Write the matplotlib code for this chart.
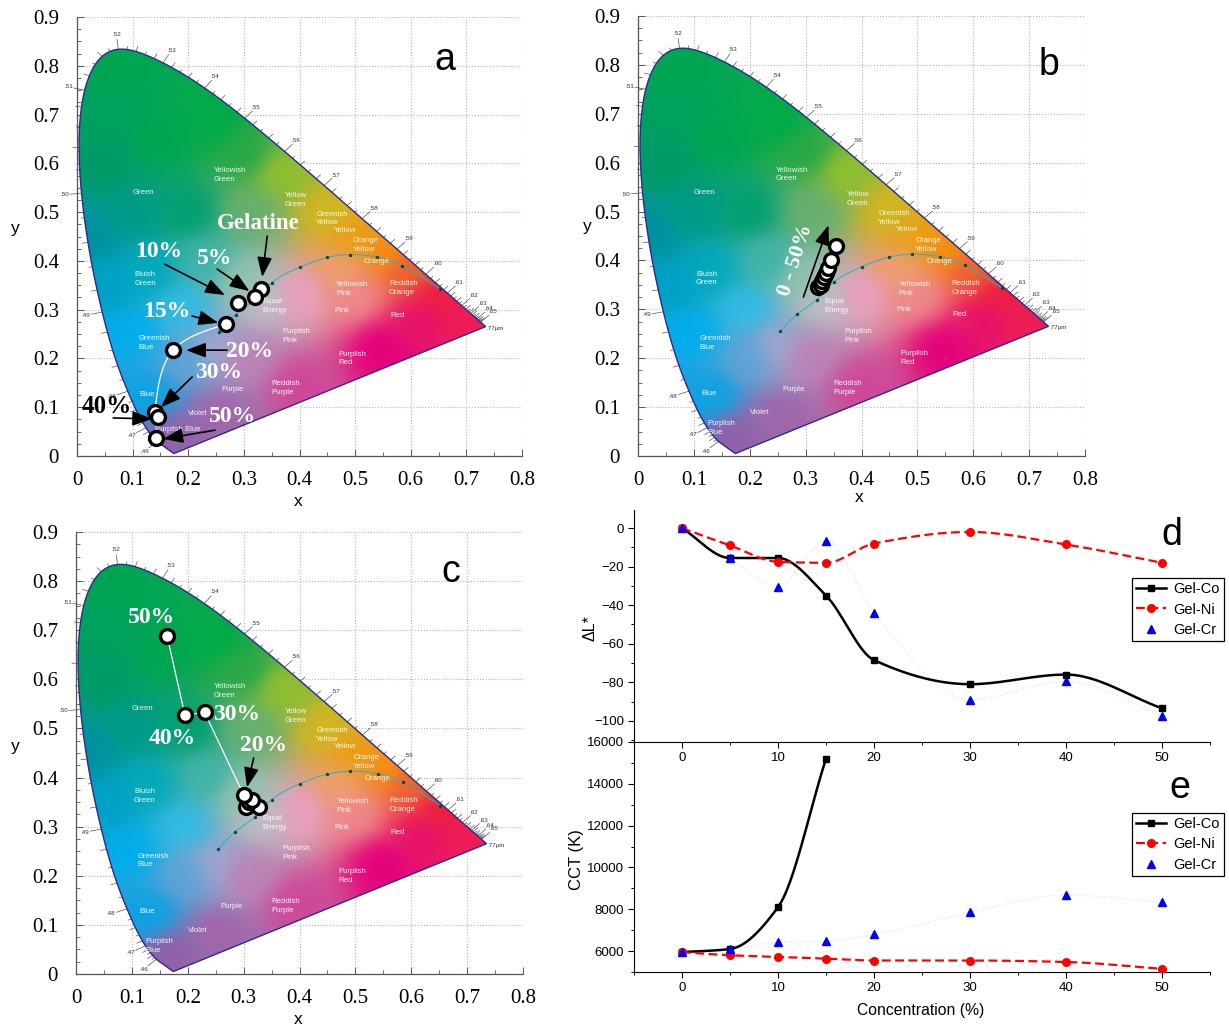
import numpy as np
import matplotlib
matplotlib.use("Agg")
import matplotlib.pyplot as plt
from matplotlib.colors import to_rgb
from matplotlib.lines import Line2D
from matplotlib.patches import Polygon
from matplotlib.ticker import MultipleLocator

W, H = 1229, 1027
SERIF = "Liberation Serif"
SANS = "Liberation Sans"

# CIE 1931 spectral locus
wave = [460, 470, 475, 480, 485, 490, 495, 500, 505, 510, 515, 520, 525, 530, 535, 540, 545, 550, 555, 560,
        565, 570, 575, 580, 585, 590, 595, 600, 610, 620, 630, 640, 650]
loc_x = [.1440, .1241, .1096, .0913, .0687, .0454, .0235, .0082, .0039, .0139, .0389, .0743, .1142, .1547, .1929,
         .2296, .2658, .3016, .3373, .3731, .4087, .4441, .4788, .5125, .5448, .5752, .6029, .6270, .6658, .6915,
         .7079, .7190, .7260]
loc_y = [.0297, .0578, .0868, .1327, .2007, .2950, .4127, .5384, .6548, .7502, .8120, .8338, .8262, .8059, .7816,
         .7543, .7243, .6923, .6589, .6245, .5896, .5547, .5202, .4866, .4544, .4242, .3965, .3725, .3340, .3083,
         .2920, .2809, .2740]
end_red = (.7347, .2653)
end_blue = (.1741, .0050)

# colours
anchor_x = [.08, .25, .05, .02, .06, .10, .19, .13, .17, .25, .30, .33, .40, .37, .45, .50, .55, .60, .65, .72,
            .55, .40, .30, .50, .25, .20, .10, .15, .31, .47, .62, .30, .23, .05, .13, .20]
anchor_y = [.78, .68, .60, .45, .35, .25, .30, .12, .04, .08, .36, .32, .33, .58, .50, .45, .42, .38, .33, .27,
            .22, .14, .20, .33, .22, .50, .50, .65, .50, .38, .28, .62, .40, .70, .38, .20]
anchor_c = ["#00a651", "#00ab48", "#009a68", "#0090a0", "#00a0c8", "#00aeef", "#30bce8", "#08a4e4", "#9460a8",
            "#a266aa", "#90c4ae", "#c4bcc8", "#eca0c4", "#92c030", "#d0b820", "#eca010", "#f59010", "#f26030",
            "#ee1c40", "#ee1c58", "#e4007c", "#d04898", "#c080b4", "#f08890", "#a4a8d0", "#00a070", "#009a88",
            "#00a650", "#68b070", "#f0a070", "#e8106c", "#28a848", "#40b4a8", "#00a060", "#00aabc", "#5ca4d8"]

# planckian locus
pl_x = [.255, .285, .32, .35, .40, .45, .49, .54, .585, .652]
pl_y = [.255, .29, .32, .355, .387, .407, .413, .408, .39, .343]

region_names = ["Yellowish\nGreen", "Green", "Yellow\nGreen", "Greenish\nYellow", "Yellow", "Orange\nYellow", "Orange",
                "Reddish\nOrange", "Yellowish\nPink", "Pink", "Red", "Equal\nEnergy", "Bluish\nGreen",
                "Greenish\nBlue", "Purplish\nPink", "Purplish\nRed", "Reddish\nPurple", "Purple", "Blue", "Violet"]
region_x = [.246, .10, .374, .43, .462, .496, .516, .561, .466, .462, .563, .333, .104, .11, .37, .47, .349, .259,
            .113, .20]
region_y = [.576, .54, .525, .487, .463, .432, .398, .344, .342, .299, .289, .307, .363, .231, .246, .20, .139, .137,
            .127, .088]

# panel a points, gelatine -> 50 %
a_x = [.33, .32, .29, .268, .173, .14, .145, .142]
a_y = [.343, .325, .313, .27, .217, .09, .08, .036]
# panel b
b_x = [.323, .327, .33, .333, .336, .34, .345, .355]
b_y = [.345, .35, .358, .366, .375, .385, .40, .43]
# panel c
c_x = [.327, .305, .31, .315, .30, .23, .195, .163]
c_y = [.34, .34, .35, .355, .365, .533, .527, .688]

conc = [0, 5, 10, 15, 20, 30, 40, 50]
dl_co = [0, -15.5, -15.5, -35, -68.5, -81, -76, -93.5]
dl_ni = [0, -9, -17.5, -18, -8, -2, -8.5, -18]
dl_cr = [0, -15.5, -30.5, -6.5, -44, -89, -79.5, -97.5]
cct_co = [5950, 6100, 8100, 15200]
cct_ni = [5950, 5800, 5720, 5640, 5550, 5550, 5480, 5150]
cct_cr = [5950, 6100, 6420, 6470, 6800, 7850, 8680, 8350]


def spline(t, y, n=40):
    # natural cubic through the points
    t = np.asarray(t, float)
    y = np.asarray(y, float)
    h = np.diff(t)
    A = np.zeros((len(t), len(t)))
    b = np.zeros(len(t))
    A[0, 0] = A[-1, -1] = 1
    for i in range(1, len(t) - 1):
        A[i, i - 1:i + 2] = h[i - 1], 2 * (h[i - 1] + h[i]), h[i]
        b[i] = 6 * ((y[i + 1] - y[i]) / h[i] - (y[i] - y[i - 1]) / h[i - 1])
    m = np.linalg.solve(A, b)
    tt = np.linspace(t[0], t[-1], n * (len(t) - 1))
    i = np.clip(np.searchsorted(t, tt) - 1, 0, len(h) - 1)
    u, v = t[i + 1] - tt, tt - t[i]
    yy = (m[i] * u**3 + m[i + 1] * v**3) / (6 * h[i]) + (y[i] / h[i] - m[i] * h[i] / 6) * u \
        + (y[i + 1] / h[i] - m[i + 1] * h[i] / 6) * v
    return tt, yy


def pchip(x, y, n=30):
    # monotone hermite, no overshoot between the points
    x = np.asarray(x, float)
    y = np.asarray(y, float)
    h = np.diff(x)
    s = np.diff(y) / h
    d = np.zeros(len(x))
    for i in range(1, len(x) - 1):
        if s[i - 1] * s[i] > 0:
            w1, w2 = 2 * h[i] + h[i - 1], h[i] + 2 * h[i - 1]
            d[i] = (w1 + w2) / (w1 / s[i - 1] + w2 / s[i])
    d[0] = s[0]
    d[-1] = s[-1]
    xs, ys = [], []
    for i in range(len(h)):
        u = np.linspace(0, 1, n)
        xs.append(x[i] + u * h[i])
        ys.append((2 * u**3 - 3 * u**2 + 1) * y[i] + (u**3 - 2 * u**2 + u) * h[i] * d[i]
                  + (-2 * u**3 + 3 * u**2) * y[i + 1] + (u**3 - u**2) * h[i] * d[i + 1])
    return np.concatenate(xs), np.concatenate(ys)


def curve(x, y):
    s = np.r_[0, np.cumsum(np.hypot(np.diff(x), np.diff(y))**.5)]
    _, xx = spline(s, x)
    _, yy = spline(s, y)
    return xx, yy


def px_axes(left, right, bottom, top):
    return fig.add_axes([left / W, 1 - bottom / H, (right - left) / W, (bottom - top) / H])


def fig_text(px, py, s, **kw):
    kw.setdefault("ha", "center")
    kw.setdefault("va", "center")
    fig.text(px / W, 1 - py / H, s, **kw)


def make_gradient():
    gx, gy = np.meshgrid(np.linspace(0, .8, 260), np.linspace(0, .9, 290))
    rgb = np.array([to_rgb(c) for c in anchor_c])
    d2 = (gx[..., None] - np.array(anchor_x))**2 + (gy[..., None] - np.array(anchor_y))**2
    w = (d2 + .04**2)**-2
    return (w[..., None] * rgb).sum(axis=2) / w.sum(axis=2)[..., None]


gradient = None
nm_dense, sx_dense = spline(wave, loc_x, n=12)
_, sy_dense = spline(wave, loc_y, n=12)


def diagram(left, right, bottom, top, blue_split):
    ax = px_axes(left, right, bottom, top)
    ax.set_xlim(0, .8)
    ax.set_ylim(0, .9)
    for s in ["top", "right"]:
        ax.spines[s].set_visible(False)
    for s in ["left", "bottom"]:
        ax.spines[s].set_color("#555555")
        ax.spines[s].set_linewidth(.9)
    ax.grid(True, ls=":", color="#b5b5b5", lw=.8)
    ax.set_axisbelow(True)
    ax.xaxis.set_minor_locator(MultipleLocator(.05))
    ax.yaxis.set_minor_locator(MultipleLocator(.025))
    ax.tick_params(which="major", direction="in", length=5, width=.7, color="#555555")
    ax.tick_params(which="minor", direction="in", length=3, width=.6, color="#555555")
    ax.tick_params(axis="x", pad=11)
    ax.tick_params(axis="y", pad=13)
    xt = np.arange(9) / 10
    yt = np.arange(10) / 10
    ax.set_xticks(xt, ["0"] + [f"{v:.1f}" for v in xt[1:]], family=SERIF, fontsize=15)
    ax.set_yticks(yt, ["0"] + [f"{v:.1f}" for v in yt[1:]], family=SERIF, fontsize=15)

    lx = np.r_[end_blue[0], sx_dense, end_red[0]]
    ly = np.r_[end_blue[1], sy_dense, end_red[1]]
    poly = Polygon(np.c_[lx, ly], closed=True, fc="none", ec="#2a2a90", lw=1, zorder=3)
    ax.add_patch(poly)
    im = ax.imshow(gradient, extent=(0, .8, 0, .9), origin="lower", aspect="auto", zorder=2, interpolation="bilinear")
    im.set_clip_path(poly)

    # wavelength ticks
    for nm in np.arange(460, 651, 2):
        x0 = np.interp(nm, nm_dense, sx_dense)
        y0 = np.interp(nm, nm_dense, sy_dense)
        tx = np.interp(nm + 1, nm_dense, sx_dense) - np.interp(nm - 1, nm_dense, sx_dense)
        ty = np.interp(nm + 1, nm_dense, sy_dense) - np.interp(nm - 1, nm_dense, sy_dense)
        nn = np.hypot(tx, ty)
        ln = .02 if nm % 10 == 0 else (.011 if nm % 4 == 0 else .006)
        ax.plot([x0, x0 - ty / nn * ln], [y0, y0 + tx / nn * ln], color="#444444", lw=.45, zorder=2, clip_on=False)
        if nm % 10 == 0:
            ax.text(x0 - ty / nn * .03, y0 + tx / nn * .03, f".{nm // 10}", fontsize=4.5, color="#333333",
                    ha="center", va="center", family=SANS)
    ax.text(.752, .262, ".77μm", fontsize=4.5, color="#333333", ha="center", va="center", family=SANS)

    xx, yy = curve(pl_x, pl_y)
    ax.plot(xx, yy, color="#1fb8b8", lw=.7, zorder=4)
    ax.plot(pl_x, pl_y, "o", color="#114444", ms=1.4, zorder=4)

    for s, x, y in zip(region_names, region_x, region_y):
        ax.text(x, y, s, color="white", fontsize=5.6, family=SANS, ha="left", va="center", alpha=.9, zorder=5,
                linespacing=1.35)
    if blue_split:
        ax.text(.125, .057, "Purplish\nBlue", color="white", fontsize=5.6, family=SANS, va="center", alpha=.9,
                zorder=5, linespacing=1.35)
    else:
        ax.text(.14, .055, "Purplish Blue", color="white", fontsize=5.6, family=SANS, va="center", alpha=.9, zorder=5)
    return ax


def points(ax, x, y):
    ax.plot(x, y, "o", mfc="white", mec="black", mew=2.4, ms=10, zorder=8)


def arrow(ax, start, end):
    ax.annotate("", xy=end, xytext=start, zorder=9,
                arrowprops=dict(arrowstyle="-|>,head_length=1.2,head_width=.45", color="black", lw=1.2,
                                shrinkA=0, shrinkB=0))


def label(ax, x, y, s, size=17, color="white", rot=0):
    ax.text(x, y, s, family=SERIF, weight="bold", fontsize=size, color=color, ha="center", va="center",
            rotation=rot, zorder=10)


def series(ax, x, y, color, marker, ls, lw, alpha=1, ms=5.5):
    xx, yy = pchip(x, y)
    ax.plot(xx, yy, color=color, ls=ls, lw=lw, alpha=alpha, zorder=3)
    ax.plot(x, y, marker, color=color, ms=ms, ls="none", zorder=4)


def lower_axes(bottom, top, ylim, major, minor):
    ax = px_axes(634, 1210, bottom, top)
    ax.set_xlim(-5, 55)
    ax.set_ylim(*ylim)
    ax.patch.set_alpha(0)
    for s in ["top", "right"]:
        ax.spines[s].set_visible(False)
    ax.xaxis.set_major_locator(MultipleLocator(10))
    ax.xaxis.set_minor_locator(MultipleLocator(5))
    ax.yaxis.set_major_locator(MultipleLocator(major))
    ax.yaxis.set_minor_locator(MultipleLocator(minor))
    ax.tick_params(which="major", length=4, width=.8, labelsize=9.5, pad=3)
    ax.tick_params(which="minor", length=2.5, width=.7)
    for t in ax.get_xticklabels() + ax.get_yticklabels():
        t.set_family(SANS)
    return ax


def legend(ax, px_left, px_top):
    handles = [Line2D([], [], color="black", lw=1.8, marker="s", ms=5, label="Gel-Co"),
               Line2D([], [], color="red", lw=1.6, ls=(0, (4, 2)), marker="o", ms=5.5, label="Gel-Ni"),
               Line2D([], [], color="blue", lw=0, marker="^", ms=5.5, label="Gel-Cr")]
    leg = ax.legend(handles=handles, loc="upper left", bbox_to_anchor=(px_left / W, 1 - px_top / H),
                    bbox_transform=fig.transFigure, fancybox=False, framealpha=1, edgecolor="black",
                    prop=dict(family=SANS, size=10.5), borderpad=.3, labelspacing=.42, handlelength=2.0,
                    handletextpad=.55, borderaxespad=0)
    leg.get_frame().set_linewidth(.9)


fig = plt.figure(figsize=(W / 100, H / 100), dpi=100)
gradient = make_gradient()

# panel a
ax = diagram(77, 522, 456, 17, False)
xx, yy = curve(a_x[3:6], a_y[3:6])
ax.plot(xx, yy, color="white", lw=.9, zorder=7)
points(ax, a_x, a_y)
arrow(ax, (.342, .451), (.333, .367))
arrow(ax, (.158, .393), (.266, .33))
arrow(ax, (.252, .383), (.31, .338))
arrow(ax, (.207, .287), (.254, .273))
arrow(ax, (.27, .217), (.196, .217))
arrow(ax, (.207, .162), (.151, .10))
arrow(ax, (.065, .078), (.135, .076))
arrow(ax, (.248, .053), (.155, .035))
label(ax, .325, .476, "Gelatine", 16.5)
label(ax, .147, .42, "10%")
label(ax, .247, .404, "5%")
label(ax, .162, .296, "15%")
label(ax, .311, .215, "20%")
label(ax, .254, .172, "30%")
label(ax, .054, .102, "40%", 18, color="black")
label(ax, .28, .08, "50%")

# panel b
ax = diagram(638, 1085, 456, 16, True)
xx, yy = curve(b_x, b_y)
ax.plot(xx, yy, color="white", lw=.9, zorder=7)
points(ax, b_x, b_y)
arrow(ax, (.296, .325), (.341, .472))
label(ax, .282, .40, "0 - 50%", 16, rot=72)

# panel c
ax = diagram(76, 523, 974, 532, True)
ax.plot(c_x[4:], c_y[4:], color="white", lw=.9, zorder=7)
points(ax, c_x, c_y)
arrow(ax, (.318, .44), (.306, .38))
label(ax, .135, .725, "50%")
label(ax, .172, .48, "40%")
label(ax, .288, .528, "30%")
label(ax, .335, .465, "20%")

# panel d
ax = lower_axes(742, 510, (-111, 9.4), 20, 10)
series(ax, conc, dl_co, "black", "s", "-", 1.8, ms=5)
series(ax, conc, dl_ni, "red", "o", (0, (4, 2)), 1.6)
series(ax, conc, dl_cr, "blue", "^", ":", .9, alpha=.12)
ax.set_xticks([0, 10, 20, 30, 40, 50])
legend(ax, 1132, 578)

# panel e
ax = lower_axes(972, 742, (5000, 16000), 2000, 1000)
series(ax, conc[:4], cct_co, "black", "s", "-", 1.8, ms=5)
series(ax, conc, cct_ni, "red", "o", (0, (4, 2)), 1.6)
series(ax, conc, cct_cr, "blue", "^", ":", .9, alpha=.12)
ax.set_xticks([0, 10, 20, 30, 40, 50])
legend(ax, 1132, 813)

# letters and axis titles
for px, py, s in [(445, 60, "a"), (1049, 65, "b"), (451, 572, "c"), (1172, 535, "d"), (1180, 788, "e")]:
    fig_text(px, py, s, family=SANS, fontsize=27)
for px, py in [(298, 502), (859, 497), (298, 1020)]:
    fig_text(px, py, "x", family=SANS, fontsize=12.5)
for px, py in [(15, 228), (587, 227), (15, 746)]:
    fig_text(px, py, "y", family=SANS, fontsize=12.5)
fig_text(590, 628, "ΔL*", family=SANS, fontsize=11.5, rotation=90)
fig_text(577, 860, "CCT (K)", family=SANS, fontsize=12, rotation=90)
fig_text(921, 1011, "Concentration (%)", family=SANS, fontsize=11.3)

fig.savefig("out.png", dpi=100)
